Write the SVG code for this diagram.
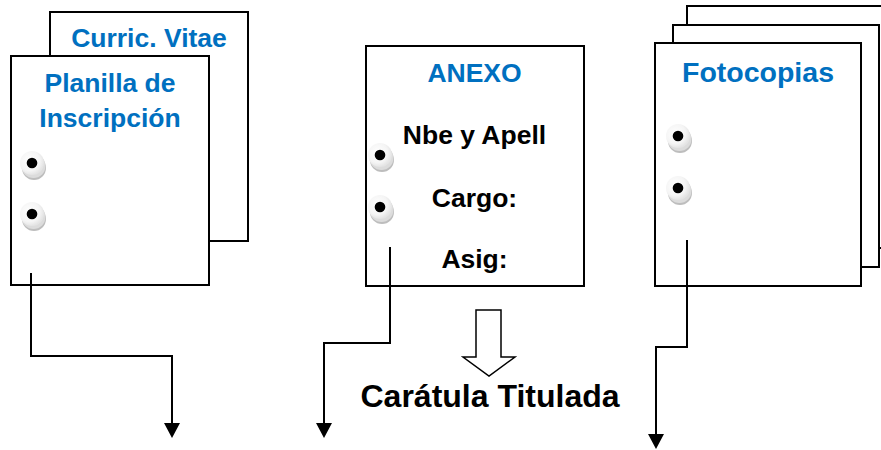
<svg xmlns="http://www.w3.org/2000/svg" width="881" height="450" viewBox="0 0 881 450">
<style>
.page{fill:#fff;stroke:#000;stroke-width:2}
.t{font-family:"Liberation Sans",Arial,sans-serif;font-weight:bold;font-size:26.5px;text-anchor:middle}
.blue{fill:#0070C0}
.blk{fill:#000}
.conn{fill:none;stroke:#000;stroke-width:2}
.head{fill:#000}
</style>
<defs>
<radialGradient id="hg" cx="0.4" cy="0.4" r="0.6">
<stop offset="0" stop-color="#ffffff"/>
<stop offset="0.7" stop-color="#f5f5f5"/>
<stop offset="1" stop-color="#e4e4e4"/>
</radialGradient>
<g id="hole">
<circle cx="2" cy="5" r="12" fill="#bdbdbd"/>
<circle cx="1.5" cy="3" r="12" fill="#dcdcdc"/>
<circle cx="0" cy="0" r="12" fill="url(#hg)"/>
<circle cx="0" cy="0" r="5.3" fill="#000"/>
</g>
</defs>
<rect width="881" height="450" fill="#fff"/>

<g id="curric-vitae">
<rect class="page" x="50" y="12" width="198" height="229"/>
<text class="t blue" x="149" y="47">Curric. Vitae</text>
</g>

<g id="planilla">
<rect class="page" x="11" y="56" width="198" height="229"/>
<text class="t blue" x="110" y="92">Planilla de</text>
<text class="t blue" x="110" y="127">Inscripción</text>
<use href="#hole" x="32" y="163"/>
<use href="#hole" x="32" y="214"/>
</g>

<g id="anexo">
<rect class="page" x="366" y="46" width="218" height="240"/>
<text class="t blue" x="474.5" y="82">ANEXO</text>
<text class="t blk" x="474.5" y="144">Nbe y Apell</text>
<text class="t blk" x="474.5" y="207">Cargo:</text>
<text class="t blk" x="474.5" y="268">Asig:</text>
<use href="#hole" x="380" y="155"/>
<use href="#hole" x="380" y="207"/>
</g>

<g id="fotocopias">
<rect class="page" x="687" y="6" width="206" height="242"/>
<rect class="page" x="673" y="25" width="206" height="242"/>
<rect class="page" x="655" y="43" width="206" height="243"/>
<text class="t blue" x="758" y="82" style="font-size:28.5px">Fotocopias</text>
<use href="#hole" x="678" y="136"/>
<use href="#hole" x="678" y="188"/>
</g>

<g id="caratula">
<path d="M476,310 L501,310 L501,357 L515,357 L489,376 L463,357 L476,357 Z" fill="#fff" stroke="#000" stroke-width="1.5" stroke-linejoin="miter"/>
<text class="t blk" x="490" y="407" style="font-size:32px">Carátula Titulada</text>
</g>

<g id="connectors">
<path class="conn" d="M31,273 L31,356 L172,356 L172,423"/>
<path class="head" d="M164,423 L180,423 L172,438 Z"/>
<path class="conn" d="M390,247 L390,343 L324,343 L324,423"/>
<path class="head" d="M316,423 L332,423 L324,438 Z"/>
<path class="conn" d="M687,240 L687,347 L656,347 L656,434"/>
<path class="head" d="M648,434 L664,434 L656,449 Z"/>
</g>
</svg>
